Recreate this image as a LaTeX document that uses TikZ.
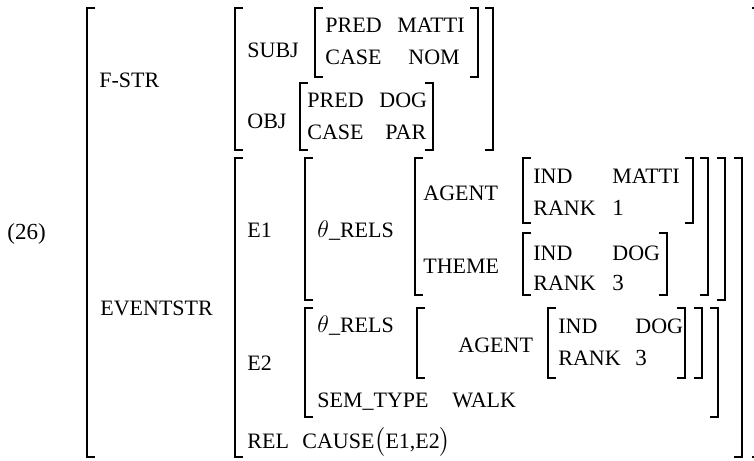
\documentclass[tikz,border=0pt]{standalone}
\usepackage{amsmath}
\usepackage{fontspec}
\setmainfont{Liberation Serif}
\usepackage{tikz}
\usetikzlibrary{positioning}
\tikzset{
    feat/.style={anchor=base west, inner sep=0pt, font=\fontsize{11}{13}\selectfont},
    val/.style={anchor=base west, inner sep=0pt, font=\fontsize{11.5}{14}\selectfont},
    brk/.style={draw, line width=1pt}
}

\begin{document}
\begin{tikzpicture}[x=0.5pt, y=-0.5pt]
    \useasboundingbox (0,0) rectangle (754,460);

    % Example number
    \node [val] (num) at (7,239) {(26)};

    % Brackets: left x / right x / top / bottom
    \foreach \xl/\xr/\yt/\yb in {87/760/8/457, 235/493/8/150, 315/478/8/77, 300/433/83/150,
        235/742/158/457, 305/725/158/300, 415/708/158/295, 523/693/158/223, 523/667/233/295,
        305/718/308/417, 417/702/308/378, 548/685/308/378} {
        \draw [brk] (\xl+8,\yt) -- (\xl,\yt) -- (\xl,\yb) -- (\xl+8,\yb);
        \draw [brk] (\xr-8,\yt) -- (\xr,\yt) -- (\xr,\yb) -- (\xr-8,\yb);
    }

    % F-structure
    \node [feat] (fstr) at (99,88) {F-STR};
    \node [feat] (subj) at (247,58) {SUBJ};
    \node [feat] (spred) at (325,33) {PRED};
    \node [feat] (smatti) at (397,33) {MATTI};
    \node [feat] (scase) at (325,65) {CASE};
    \node [feat] (snom) at (408,65) {NOM};
    \node [feat] (obj) at (247,128) {OBJ};
    \node [feat] (opred) at (307,108) {PRED};
    \node [feat] (odog) at (379,108) {DOG};
    \node [feat] (ocase) at (307,140) {CASE};
    \node [feat] (opar) at (385,140) {PAR};

    % Event structure
    \node [feat] (evstr) at (100,315) {EVENTSTR};
    \node [feat] (eone) at (247,237) {E1};
    \node [feat] (rels1) at (317,237) {{\large$\theta$}\_RELS};
    \node [feat] (agent1) at (423,200) {AGENT};
    \node [feat] (aind1) at (533,183) {IND};
    \node [feat] (amatti) at (612,183) {MATTI};
    \node [feat] (arank1) at (533,215) {RANK};
    \node [val] (aone) at (612,215) {1};
    \node [feat] (theme) at (423,273) {THEME};
    \node [feat] (tind) at (533,260) {IND};
    \node [feat] (tdog) at (612,260) {DOG};
    \node [feat] (trank) at (533,290) {RANK};
    \node [val] (tthree) at (612,290) {3};

    \node [feat] (etwo) at (247,370) {E2};
    \node [feat] (rels2) at (317,332) {{\large$\theta$}\_RELS};
    \node [feat] (agent2) at (458,352) {AGENT};
    \node [feat] (aind2) at (558,333) {IND};
    \node [feat] (adog) at (635,333) {DOG};
    \node [feat] (arank2) at (558,365) {RANK};
    \node [val] (athree) at (635,365) {3};
    \node [feat] (semtype) at (317,407) {SEM\_TYPE};
    \node [feat] (walk) at (452,407) {WALK};

    \node [feat] (rel) at (247,448) {REL};
    \node [feat] (cause) at (302,448) {CAUSE{\large$\big($}E1,E2{\large$\big)$}};
\end{tikzpicture}
\end{document}
